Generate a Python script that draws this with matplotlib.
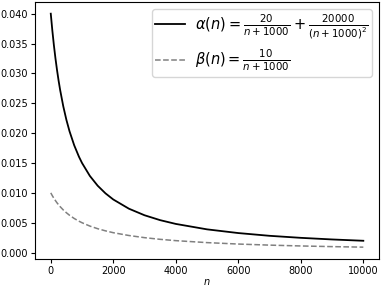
import matplotlib
matplotlib.use('Agg')
import matplotlib.pyplot as plt

# values
n_values = [0, 50, 100, 150, 200, 250, 300, 400, 500, 600, 750, 900, 1000, 1250,
            1500, 1750, 2000, 2500, 3000, 3500, 4000, 5000, 6000, 7000, 8000,
            9000, 10000]
alpha_values = [0.0400, 0.03719, 0.03471, 0.03251, 0.03056, 0.0288, 0.02722,
                0.02449, 0.02222, 0.02031, 0.01796, 0.01607, 0.0150, 0.01284,
                0.0112, 0.00992, 0.00889, 0.00735, 0.00625, 0.00543, 0.0048,
                0.00389, 0.00327, 0.00281, 0.00247, 0.0022, 0.00198]
beta_values = [0.0100, 0.00952, 0.00909, 0.0087, 0.00833, 0.0080, 0.00769,
               0.00714, 0.00667, 0.00625, 0.00571, 0.00526, 0.0050, 0.00444,
               0.0040, 0.00364, 0.00333, 0.00286, 0.0025, 0.00222, 0.0020,
               0.00167, 0.00143, 0.00125, 0.00111, 0.0010, 0.00091]

alpha_label = r'$\alpha(n) = \frac{20}{n + 1000} + \frac{20000}{(n + 1000)^2}$'
beta_label = r'$\beta(n) = \frac{10}{n + 1000}$'

fig, ax = plt.subplots(figsize=(3.82, 2.86), dpi=100)
fig.subplots_adjust(left=0.092, right=0.992, top=0.993, bottom=0.095)

ax.plot(n_values, alpha_values, color='black', lw=1.3, label=alpha_label)
ax.plot(n_values, beta_values, color='gray', lw=1.1, ls='--', label=beta_label)

ax.set_xlabel(r'$n$', fontsize=7, labelpad=1)
ax.set_xticks([0, 2000, 4000, 6000, 8000, 10000])
ax.set_yticks([0.0, 0.005, 0.010, 0.015, 0.020, 0.025, 0.030, 0.035, 0.040])
ax.set_yticklabels(['0.000', '0.005', '0.010', '0.015', '0.020', '0.025',
                    '0.030', '0.035', '0.040'])
ax.tick_params(labelsize=7, length=3, pad=2)
ax.legend(loc='upper right', fontsize=10.5, handlelength=2.0, handletextpad=0.7,
          borderpad=0.25, labelspacing=0.45)

fig.savefig('out.png', dpi=100)
